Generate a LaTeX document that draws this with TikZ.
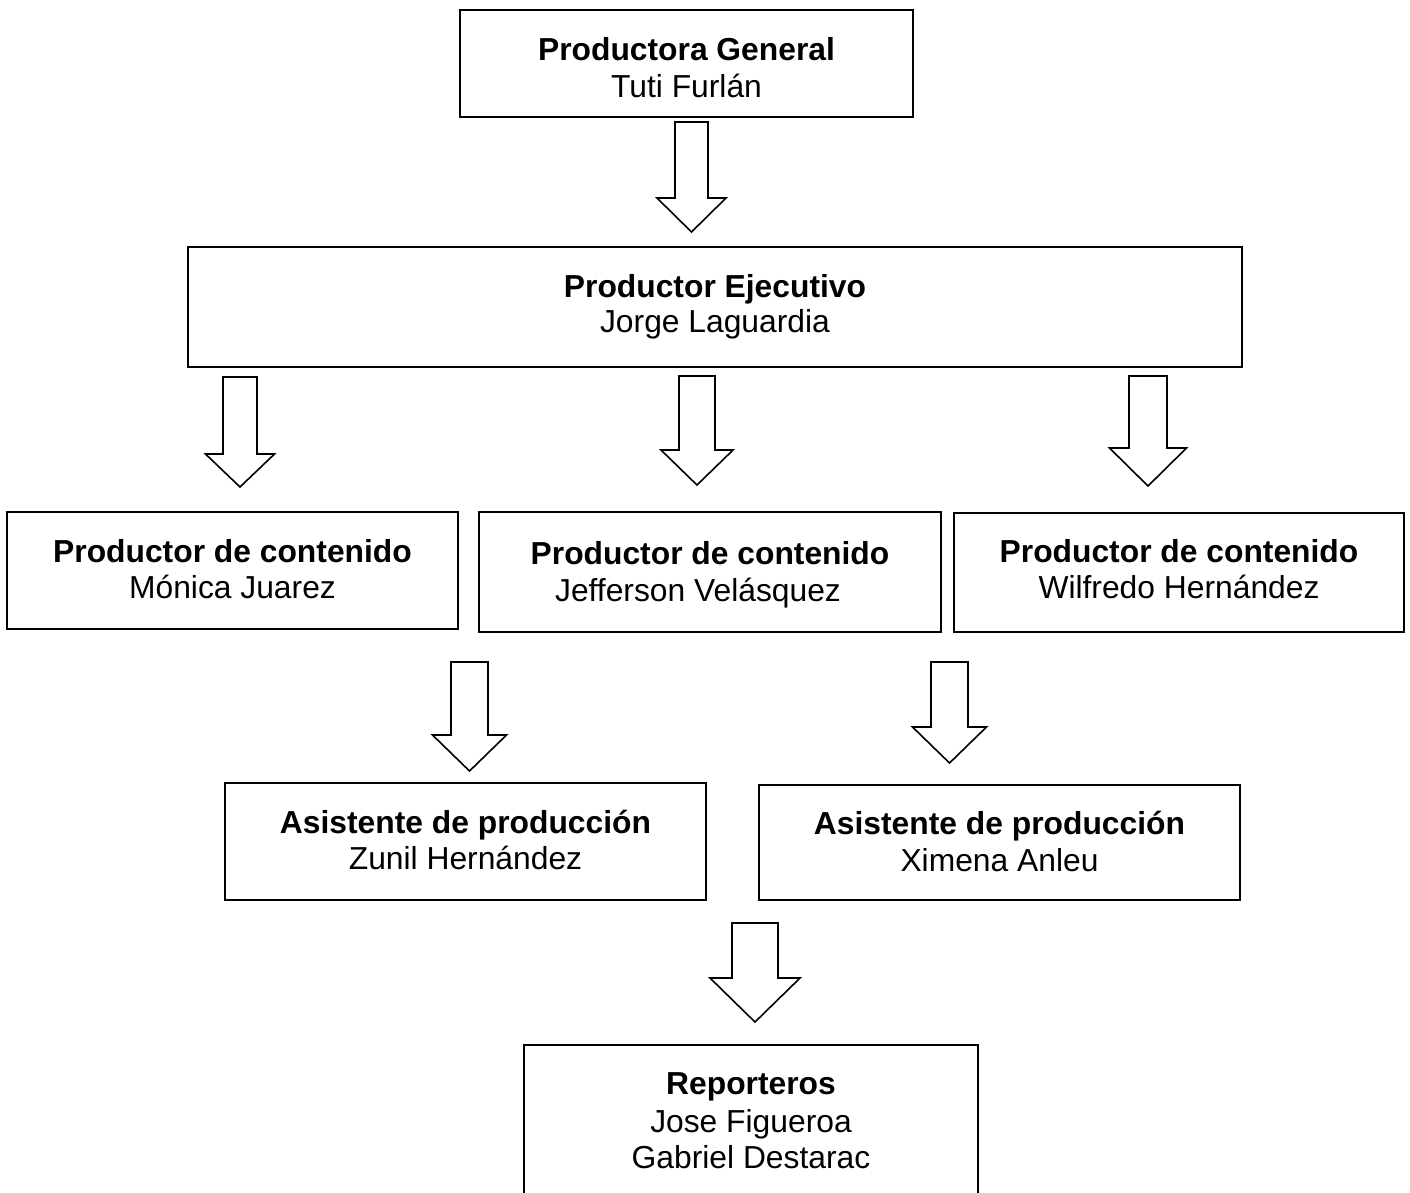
\documentclass[tikz,border=0pt]{standalone}
\usepackage{fontspec}
\setmainfont{Liberation Sans}
\newcommand\blockarr[6]{%
  \draw[arr] (#1-#5,#2) -- (#1+#5,#2) -- (#1+#5,#3) -- (#1+#6,#3) -- (#1,#4) -- (#1-#6,#3) -- (#1-#5,#3) -- cycle;}
\begin{document}
\begin{tikzpicture}[x=1pt,y=-1pt,
  box/.style={draw=black, line width=2pt, fill=white, inner sep=0pt, outer sep=0pt},
  ttl/.style={anchor=base, inner sep=0pt, font=\fontsize{31.8}{36}\selectfont\bfseries},
  nm/.style={anchor=base, inner sep=0pt, font=\fontsize{31.8}{36}\selectfont},
  arr/.style={draw=black, line width=1.6pt, fill=white, line join=miter}]
\path[use as bounding box, clip] (0,0) rectangle (1410,1192);
\fill[white] (0,0) rectangle (1410,1192);

% boxes
\node[box, minimum width=453pt, minimum height=107pt] (b1) at (686.5,63.5) {};
\node[box, minimum width=1054pt, minimum height=120pt] (b2) at (715,307) {};
\node[box, minimum width=451pt, minimum height=117pt] (b3) at (232.5,570.5) {};
\node[box, minimum width=462pt, minimum height=120pt] (b4) at (710,572) {};
\node[box, minimum width=450pt, minimum height=119pt] (b5) at (1179,572.5) {};
\node[box, minimum width=481pt, minimum height=117pt] (b6) at (465.5,841.5) {};
\node[box, minimum width=481pt, minimum height=115pt] (b7) at (999.5,842.5) {};
\node[box, minimum width=454pt, minimum height=195pt] (b8) at (751,1142.5) {};

% texts
\node[ttl] (t1) at (686.5,60) {Productora General};
\node[nm]  (n1) at (686.5,97) {Tuti Furlán};
\node[ttl] (t2) at (715,297) {Productor Ejecutivo};
\node[nm]  (n2) at (715,332) {Jorge Laguardia};
\node[ttl] (t3) at (232.5,562) {Productor de contenido};
\node[nm]  (n3) at (232.5,598) {Mónica Juarez};
\node[ttl] (t4) at (710,564) {Productor de contenido};
\node[nm]  (n4) at (698,601) {Jefferson Velásquez};
\node[ttl] (t5) at (1179,562) {Productor de contenido};
\node[nm]  (n5) at (1179,598) {Wilfredo Hernández};
\node[ttl] (t6) at (465.5,833) {Asistente de producción};
\node[nm]  (n6) at (465.5,869) {Zunil Hernández};
\node[ttl] (t7) at (999.5,834) {Asistente de producción};
\node[nm]  (n7) at (999.5,871) {Ximena Anleu};
\node[ttl] (t8) at (751,1094) {Reporteros};
\node[nm]  (n8a) at (751,1132) {Jose Figueroa};
\node[nm]  (n8b) at (751,1168) {Gabriel Destarac};

% block arrows
\blockarr{691.5}{122}{198}{232}{16.5}{34.5}
\blockarr{240}{377}{454}{487}{17}{34.5}
\blockarr{697}{376}{450}{485}{18}{36}
\blockarr{1148}{376}{448}{486}{19}{38.5}
\blockarr{469.5}{662}{735}{771}{18.5}{37}
\blockarr{949.5}{662}{727}{763}{18.5}{37}
\blockarr{755}{923}{978}{1022}{23}{45}
\end{tikzpicture}
\end{document}
